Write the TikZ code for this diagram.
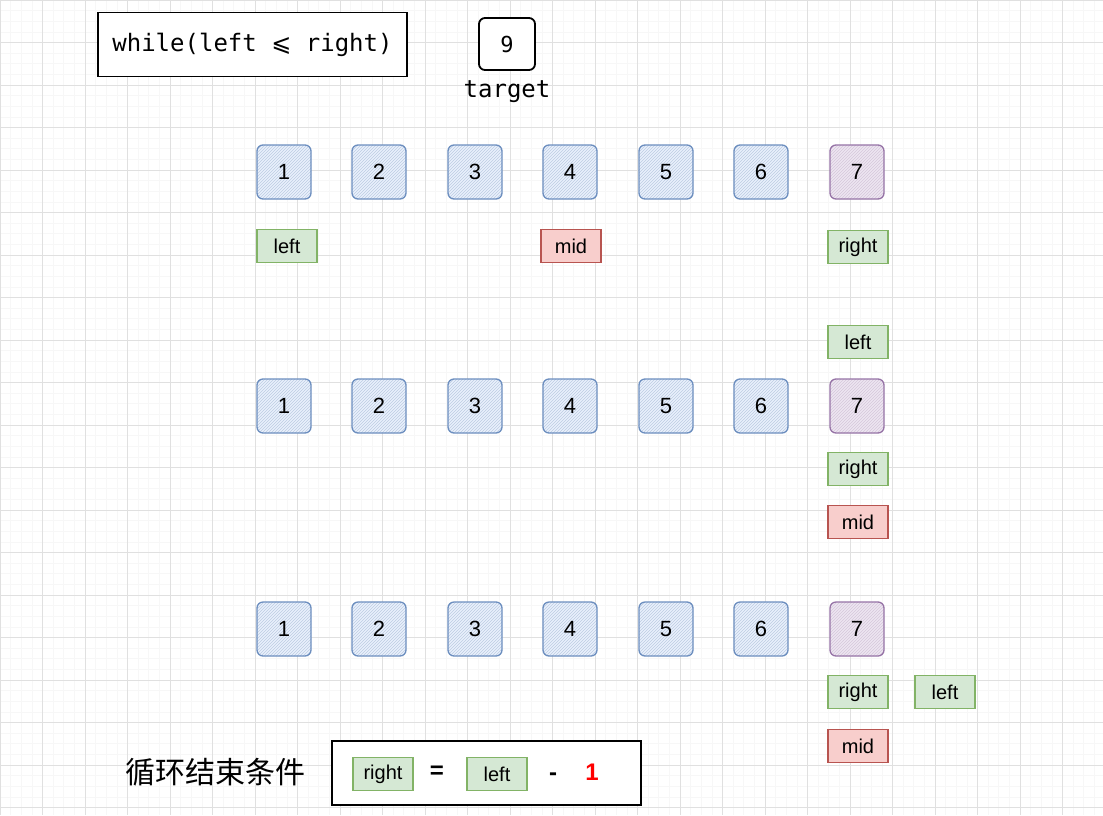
\documentclass[tikz,border=0pt]{standalone}
\usepackage{fontspec}
\setmainfont{Liberation Sans}
\newfontfamily\codefont{DejaVu Sans Mono}
\newfontfamily\symfont{DejaVu Sans}
\newfontfamily\cjkfont{Noto Sans CJK SC}
\usetikzlibrary{patterns}
\definecolor{cellline}{HTML}{6C8EBF}
\definecolor{cellfill}{HTML}{DAE8FC}
\definecolor{lastline}{HTML}{9673A6}
\definecolor{lastfill}{HTML}{E1D5E7}
\definecolor{ptrline}{HTML}{82B366}
\definecolor{ptrfill}{HTML}{D5E8D4}
\definecolor{midline}{HTML}{B85450}
\definecolor{midfill}{HTML}{F8CECC}
\tikzset{
every picture/.style={x=1pt, y=-1pt},
%%%%%%%%%%  Grid
minorgrid/.style={draw=black!3, line width=0.6pt},
majorgrid/.style={draw=black!12, line width=0.9pt},
%%%%%%%%%%  Node styles
cell/.style={draw=cellline, line width=1.3pt, rounded corners=6pt,
             minimum width=54pt, minimum height=54pt, inner sep=0pt,
             preaction={fill=cellfill!60},
             pattern=north east lines, pattern color=cellline!45,
             font=\fontsize{22}{26}\selectfont},
lastcell/.style={cell, draw=lastline, preaction={fill=lastfill!60},
                 pattern color=lastline!40},
pointer/.style={draw=ptrline, fill=ptrfill, line width=1.3pt,
                minimum width=60pt, minimum height=33pt, inner sep=0pt,
                font=\fontsize{20}{24}\selectfont},
midpointer/.style={pointer, draw=midline, fill=midfill},
codebox/.style={draw, line width=1.8pt, fill=white, minimum width=309pt,
                minimum height=64pt, inner sep=0pt},
targetbox/.style={draw, line width=1.8pt, fill=white, rounded corners=6pt,
                  minimum width=56pt, minimum height=52pt, inner sep=0pt,
                  font=\codefont\fontsize{22}{26}\selectfont},
sign/.style={font=\bfseries\fontsize{24}{28}\selectfont}
}

\begin{document}
\begin{tikzpicture}
\useasboundingbox (0,0) rectangle (1103,815);
\fill[white] (0,0) rectangle (1103,815);
%%%% grid
\foreach \i in {0,...,103} \draw[minorgrid] (\i*10.625,0) -- (\i*10.625,815);
\foreach \i in {0,...,76} \draw[minorgrid] (0,\i*10.625) -- (1103,\i*10.625);
\foreach \i in {0,...,25} \draw[majorgrid] (\i*42.5,0) -- (\i*42.5,815);
\foreach \i in {0,...,19} \draw[majorgrid] (0,\i*42.5) -- (1103,\i*42.5);

%%%% header
\node[codebox, font=\codefont\fontsize{24}{28}\selectfont] (loop) at (252.5,44.5)
  {while(left {\symfont ⩽} right)};
\node[targetbox] (target) at (507,44) {9};
\node[font=\codefont\fontsize{24}{28}\selectfont] (targetlabel) at (507,92) {target};

%%%% three rows of the array
\foreach \r/\y in {a/172, b/406, c/629} {
  \foreach \v/\x in {1/284, 2/379, 3/475, 4/570, 5/666, 6/761}
    \node[cell] (\r\v) at (\x,\y) {\v};
  \node[lastcell] (\r7) at (857,\y) {7};
}

%%%% pointers
\node[pointer] (aleft) at (287,246) {left};
\node[midpointer] (amid) at (571,246) {mid};
\node[pointer] (aright) at (858,247) {right};
\node[pointer] (bleft) at (858,342) {left};
\node[pointer] (bright) at (858,469) {right};
\node[midpointer] (bmid) at (858,522) {mid};
\node[pointer] (cright) at (858,692) {right};
\node[pointer] (cleft) at (945,692) {left};
\node[midpointer] (cmid) at (858,746) {mid};

%%%% end condition
\node[font=\cjkfont\fontsize{30}{34}\selectfont] (endtext) at (215,772) {循环结束条件};
\node[codebox] (endbox) at (486.5,773) {};
\node[pointer] (eright) at (383,774) {right};
\node[sign] (eq) at (437,772) {=};
\node[pointer] (eleft) at (497,774) {left};
\node[sign] (minus) at (553,777) {-};
\node[sign, text=red] (one) at (592,772) {1};
\end{tikzpicture}
\end{document}
